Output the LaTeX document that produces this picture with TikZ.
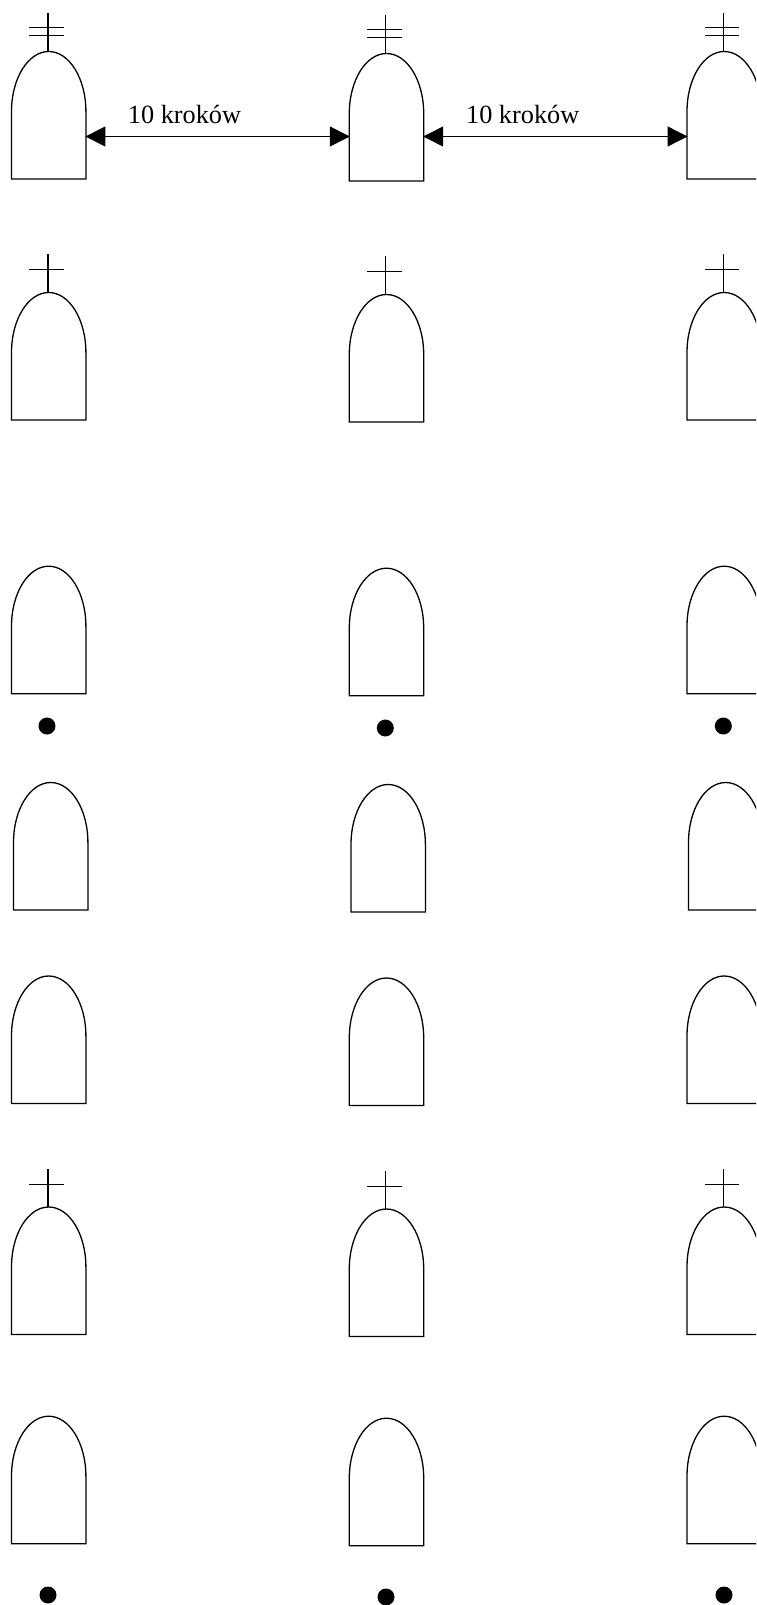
\documentclass[tikz,border=0pt]{standalone}
\usepackage{fontspec}
\setmainfont{Liberation Serif}
\usetikzlibrary{arrows.meta,calc}
\tikzset{
  x=1pt,y=-1pt,
  ln/.style={line width=1.3pt,black},
  tomb/.style={ln,line join=miter},
  dim/.style={ln,{Triangle[length=20pt,width=20pt]}-{Triangle[length=20pt,width=20pt]},shorten <=-0.5pt,shorten >=-0.5pt},
  lab/.style={font=\fontsize{26.3pt}{30pt}\selectfont,anchor=base west,inner sep=0pt},
  dot/.style={circle,fill=black,draw=none,minimum size=17pt,inner sep=0pt}
}
% #1 name, #2 left x, #3 bottom y
\newcommand{\tombstone}[3]{%
  \draw[tomb] (#2,#3) -- (#2,#3-67.5) arc[start angle=180,end angle=360,x radius=37.2,y radius=60] -- (#2+74.4,#3) -- cycle;
  \coordinate (#1t) at (#2+36.4,#3-127.5);
  \coordinate (#1l) at (#2,#3-42.5);
  \coordinate (#1r) at (#2+74.4,#3-42.5);
}
\newcommand{\crossone}[1]{%
  \draw[ln] (#1t) -- ++(0,-38.5);
  \draw[ln] ($(#1t)+(-18.5,-22.7)$) -- ++(34.3,0);
}
\newcommand{\crosstwo}[1]{%
  \draw[ln] (#1t) -- ++(0,-38.5);
  \draw[ln] ($(#1t)+(-18.5,-23.8)$) -- ++(34.3,0);
  \draw[ln] ($(#1t)+(-18.5,-15.8)$) -- ++(34.3,0);
}
\begin{document}
\begin{tikzpicture}
\useasboundingbox (0,0) rectangle (756,1605);
\clip (0,0) rectangle (756,1605);
\fill[white] (0,0) rectangle (756,1605);
% row 1
\tombstone{a1}{11.5}{179}\tombstone{a2}{349.3}{181}\tombstone{a3}{687}{179}
\crosstwo{a1}\crosstwo{a2}\crosstwo{a3}
% row 2
\tombstone{b1}{11.5}{420}\tombstone{b2}{349.3}{422}\tombstone{b3}{687}{420}
\crossone{b1}\crossone{b2}\crossone{b3}
% row 3
\tombstone{c1}{11.5}{693.7}\tombstone{c2}{349.3}{695.7}\tombstone{c3}{687}{693.7}
\node[dot] (d1) at (47,726) {};
\node[dot] (d2) at (385.3,728) {};
\node[dot] (d3) at (723.3,726) {};
% row 4
\tombstone{e1}{13.5}{910}\tombstone{e2}{351}{912}\tombstone{e3}{688.5}{910}
% row 5
\tombstone{f1}{11.5}{1103.5}\tombstone{f2}{349.3}{1105.5}\tombstone{f3}{687}{1103.5}
% row 6
\tombstone{g1}{11.5}{1334.5}\tombstone{g2}{349.3}{1336.5}\tombstone{g3}{687}{1334.5}
\crossone{g1}\crossone{g2}\crossone{g3}
% row 7
\tombstone{h1}{11.5}{1543.7}\tombstone{h2}{349.3}{1545.7}\tombstone{h3}{687}{1543.7}
\node[dot] (k1) at (48,1595) {};
\node[dot] (k2) at (386,1597) {};
\node[dot] (k3) at (724,1595) {};
% dimensions
\draw[dim] (a1r) -- (a2l |- a1r);
\draw[dim] (a2r |- a1r) -- (a3l);
\node[lab] (t1) at (127.7,123.3) {10 kroków};
\node[lab] (t2) at (465.9,123.3) {10 kroków};
\end{tikzpicture}
\end{document}
